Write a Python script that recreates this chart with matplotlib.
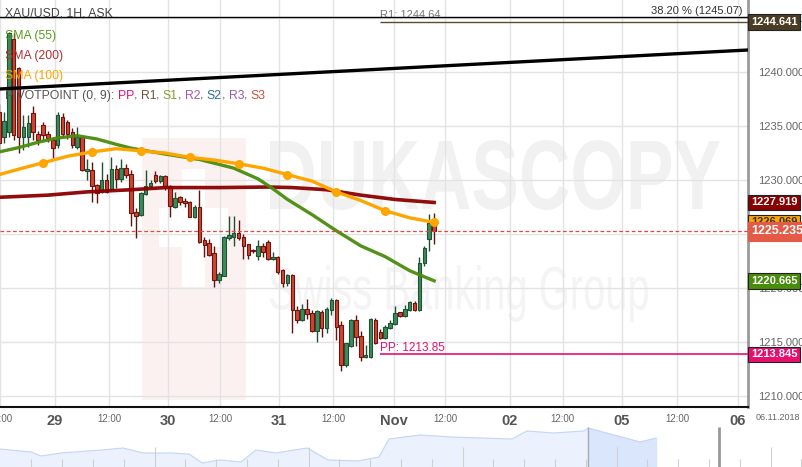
import numpy as np
import matplotlib.pyplot as plt
import matplotlib.transforms as mtrans
from matplotlib.patches import Rectangle, PathPatch
from matplotlib.textpath import TextPath
from matplotlib.font_manager import FontProperties

plt.rcParams['font.family'] = ['Liberation Sans', 'DejaVu Sans']

# XAU/USD 1H velas (ask)
opens = [1236.3, 1234.0, 1234.4, 1243.1, 1240.4, 1234.0, 1234.0, 1236.2, 1234.3, 1235.1,
         1234.3, 1233.7, 1233.2, 1235.8, 1235.4, 1234.4, 1233.1, 1234.0, 1230.8, 1230.9,
         1229.5, 1228.9, 1230.0, 1229.2, 1231.0, 1230.1, 1231.1, 1230.6, 1227.0, 1226.8,
         1228.7, 1229.4, 1230.5, 1229.9, 1230.4, 1229.4, 1227.5, 1228.4, 1228.1, 1228.0,
         1226.6, 1227.5, 1224.4, 1224.2, 1223.2, 1220.7, 1221.1, 1224.6, 1224.7, 1225.1,
         1224.7, 1224.1, 1223.5, 1223.0, 1223.9, 1224.3, 1222.7, 1222.9, 1221.7, 1220.5,
         1221.2, 1218.0, 1217.0, 1218.1, 1217.7, 1216.0, 1217.8, 1216.3, 1218.0, 1218.9,
         1216.6, 1212.9, 1214.6, 1217.0, 1215.6, 1213.6, 1213.6, 1217.0, 1215.9, 1215.4,
         1216.3, 1216.7, 1217.75, 1217.4, 1218.0, 1218.6, 1218.0, 1222.3, 1224.5, 1226.05]
highs = [1237.0, 1236.3, 1243.7, 1243.6, 1240.5, 1236.0, 1236.0, 1236.9, 1234.5, 1235.4,
         1234.5, 1234.0, 1236.3, 1236.2, 1235.6, 1234.8, 1234.9, 1234.1, 1231.9, 1231.7,
         1229.6, 1231.7, 1230.6, 1232.1, 1231.4, 1231.9, 1231.5, 1230.9, 1227.4, 1228.9,
         1230.9, 1230.0, 1230.8, 1230.5, 1230.5, 1229.5, 1228.9, 1228.5, 1228.3, 1228.1,
         1227.7, 1229.1, 1224.7, 1224.5, 1223.9, 1221.5, 1224.8, 1226.7, 1226.7, 1226.3,
         1225.0, 1224.1, 1223.6, 1224.4, 1224.2, 1224.4, 1223.3, 1223.0, 1221.8, 1221.3,
         1221.3, 1218.3, 1218.5, 1219.0, 1218.0, 1218.0, 1218.0, 1218.2, 1219.1, 1219.0,
         1216.9, 1214.9, 1217.1, 1217.5, 1216.0, 1214.7, 1217.2, 1217.2, 1216.2, 1216.6,
         1217.0, 1218.3, 1217.8, 1218.4, 1218.8, 1218.8, 1222.9, 1223.9, 1226.85, 1226.9]
lows = [1232.5, 1233.4, 1234.0, 1233.7, 1232.5, 1232.8, 1233.1, 1233.7, 1233.2, 1233.7,
        1233.5, 1232.0, 1233.0, 1234.0, 1233.8, 1233.0, 1232.9, 1230.8, 1230.0, 1228.0,
        1227.9, 1228.8, 1228.8, 1229.0, 1229.3, 1229.8, 1230.2, 1225.7, 1224.6, 1226.7,
        1228.6, 1229.3, 1229.7, 1229.7, 1229.1, 1226.6, 1227.4, 1227.7, 1227.5, 1226.6,
        1226.5, 1224.2, 1222.9, 1223.0, 1220.1, 1220.5, 1221.1, 1224.4, 1223.9, 1224.4,
        1222.7, 1222.7, 1223.2, 1222.6, 1222.9, 1222.6, 1222.6, 1221.3, 1220.1, 1220.2,
        1215.8, 1216.8, 1216.9, 1217.1, 1215.9, 1215.0, 1215.5, 1215.8, 1217.5, 1215.2,
        1212.3, 1212.7, 1214.5, 1214.6, 1213.2, 1213.5, 1213.5, 1214.8, 1215.3, 1215.3,
        1216.2, 1216.6, 1217.3, 1217.3, 1217.9, 1217.9, 1217.9, 1222.0, 1223.45, 1224.1]
closes = [1233.4, 1235.5, 1243.6, 1234.2, 1234.0, 1234.9, 1235.3, 1234.4, 1233.7, 1234.2,
          1233.9, 1233.0, 1236.0, 1234.3, 1234.3, 1233.2, 1234.0, 1230.9, 1231.0, 1229.4,
          1228.8, 1230.0, 1228.9, 1231.0, 1230.1, 1231.1, 1230.5, 1226.9, 1226.7, 1228.8,
          1229.4, 1229.7, 1229.9, 1230.4, 1229.4, 1227.6, 1228.3, 1228.0, 1227.9, 1226.6,
          1227.5, 1224.3, 1224.0, 1223.1, 1220.7, 1221.3, 1224.7, 1224.9, 1225.1, 1224.6,
          1223.9, 1223.1, 1223.4, 1223.9, 1223.3, 1222.7, 1222.9, 1221.5, 1220.5, 1221.2,
          1218.0, 1217.0, 1218.1, 1217.6, 1216.0, 1217.9, 1216.3, 1218.1, 1218.9, 1216.4,
          1212.9, 1214.9, 1217.0, 1215.5, 1213.6, 1213.8, 1217.1, 1214.9, 1215.4, 1216.4,
          1216.8, 1217.7, 1217.4, 1218.1, 1218.7, 1218.0, 1222.3, 1223.7, 1226.05, 1225.235]

# medias moviles (indice de vela, valor)
sma55_idx = [0, 4, 8, 12, 16, 20, 24, 27, 34, 41, 48, 53, 56, 59, 64, 69, 74, 79, 84, 89]
sma55_val = [1232.6, 1233.0, 1233.5, 1233.9, 1234.1, 1233.8, 1233.3, 1232.95, 1232.4, 1231.9,
             1231.1, 1230.1, 1229.2, 1228.2, 1226.8, 1225.3, 1223.9, 1222.9, 1221.6, 1220.665]
sma100_idx = [0, 4, 9, 14, 19, 24, 29, 34, 39, 44, 49, 54, 59, 64, 69, 74, 79, 84, 89]
sma100_val = [1230.5, 1231.0, 1231.6, 1232.2, 1232.6, 1232.9, 1232.7, 1232.5, 1232.1, 1231.85,
              1231.5, 1231.1, 1230.5, 1229.9, 1228.9, 1228.1, 1227.15, 1226.5, 1226.069]
sma200_idx = [0, 10, 18, 27, 34, 45, 55, 60, 67, 74, 81, 89]
sma200_val = [1228.4, 1228.6, 1228.9, 1229.1, 1229.3, 1229.3, 1229.35, 1229.3, 1229.1, 1228.6,
              1228.2, 1227.919]

# niveles
last_price = 1225.235
pp_level = 1213.85
r1_level = 1244.64
fib_level = 1245.07
pivot_start = 78
trend_idx = [0.2, 153.2]
trend_val = [1238.43, 1242.04]

tick_pos = [0.2, 11.45, 22.5, 34.6, 45.2, 57.3, 68.3, 80.8, 91.2, 104.5, 115.3, 127.4, 138.7, 151.1]
tick_lab = ['12:00', '29', '12:00', '30', '12:00', '31', '12:00', 'Nov', '12:00', '02',
            '12:00', '05', '12:00', '06']
y_ticks = [1210, 1215, 1220, 1225, 1230, 1235, 1240, 1245]

# navegador inferior
nav_x = [0, 31, 41, 61, 102, 123, 143, 169, 189, 202, 220, 241, 256, 276, 307, 328, 358, 379,
         389, 420, 451, 481, 512, 527, 553, 584, 588, 614, 640, 656]
nav_h = [18, 15, 11, 14, 17, 19, 14, 14, 13, 4, 7, 5, 17, 14, 19, 7, 6, 10,
         28, 32, 30, 29, 28, 36, 34, 36, 39, 32, 25, 29]

W, H = 803, 467
fig = plt.figure(figsize=(W / 100, H / 100), dpi=100)
ax = fig.add_axes([0, 60 / H, 748 / W, 407 / H])
# transformacion en pixeles de imagen (y hacia abajo)
T = mtrans.Affine2D().scale(1 / W, -1 / H).translate(0, 1) + fig.transFigure


def watermark(txt, box, color, weight):
    x0, y0, x1, y1 = box
    tp = TextPath((0, 0), txt, size=1, prop=FontProperties(family='Liberation Sans', weight=weight))
    e = tp.get_extents()
    tr = (mtrans.Affine2D().translate(-e.x0, -e.y1)
          .scale((x1 - x0) / e.width, -(y1 - y0) / e.height).translate(x0, y0) + T)
    ax.add_patch(PathPatch(tp, fc=color, ec='none', transform=tr, zorder=0.5))


# marca de agua
ax.add_patch(Rectangle((142, 138), 104, 262, fc='#fcf1f1', ec='none', transform=T, zorder=0.4))
ax.add_patch(Rectangle((182, 169), 23, 118, fc='white', ec='none', transform=T, zorder=0.45))
ax.add_patch(Rectangle((159, 208), 69, 39, fc='white', ec='none', transform=T, zorder=0.45))
watermark('DUKASCOPY', (270, 140, 720, 210), '#f1f1f1', 'bold')
watermark('Swiss Banking Group', (270, 265, 648, 322), '#f4f4f4', 'normal')

# velas
o, h, l, c = map(np.array, (opens, highs, lows, closes))
idx = np.arange(len(o))
up = c >= o
lo = np.minimum(o, c)
bh = np.maximum(np.abs(c - o), 0.08)
ax.vlines(idx[up], l[up], h[up], color='#1f5233', lw=1, zorder=2)
ax.vlines(idx[~up], l[~up], h[~up], color='#5e1512', lw=1, zorder=2)
ax.bar(idx[up], bh[up], bottom=lo[up], width=0.72, color='#3d8a5a', edgecolor='#1f5233', lw=0.8, zorder=3)
ax.bar(idx[~up], bh[~up], bottom=lo[~up], width=0.72, color='#d0442f', edgecolor='#6b1510', lw=0.8, zorder=3)

# medias
ax.plot(sma200_idx, sma200_val, color='#8b0000', lw=2.6, alpha=0.95, zorder=4)
ax.plot(sma55_idx, sma55_val, color='#4a8c0c', lw=2.4, alpha=0.95, zorder=4)
ax.plot(sma100_idx, sma100_val, color='#ffa500', lw=2.4, marker='o', ms=5.5,
        markevery=slice(2, None, 2), zorder=4)

# lineas dibujadas
ax.plot(trend_idx, trend_val, color='black', lw=2.4, zorder=5)
ax.axhline(fib_level, color='black', lw=1, zorder=5)
ax.text(0.993, fib_level + 0.12, '38.20 % (1245.07)', transform=mtrans.blended_transform_factory(ax.transAxes, ax.transData),
        ha='right', va='bottom', fontsize=8, color='#333')
ax.hlines(r1_level, pivot_start, 153.2, color='#5b4b2f', lw=1, zorder=5)
ax.text(pivot_start, r1_level + 0.2, 'R1: 1244.64', fontsize=8, color='#777', va='bottom')
ax.hlines(pp_level, pivot_start, 153.2, color='#e8106e', lw=1.2, zorder=5)
ax.text(pivot_start, pp_level + 0.08, 'PP: 1213.85', fontsize=8.5, color='#e8106e', va='bottom')
ax.axhline(last_price, color='#e04a3a', lw=0.9, ls=(0, (3, 2)), zorder=5)

ax.set_xlim(0.2, 153.2)
ax.set_ylim(1208.98, 1246.67)

# ejes
ax.set_axisbelow(True)
ax.grid(color='#e3e3e3', lw=1)
for s in ['top', 'left']:
    ax.spines[s].set_visible(False)
ax.spines['bottom'].set_color('#111')
ax.spines['bottom'].set_linewidth(1.5)
ax.spines['right'].set_color('#9a9a9a')
ax.spines['right'].set_linewidth(2)
ax.yaxis.tick_right()
ax.set_yticks(y_ticks)
ax.set_yticklabels(['%.3f' % v for v in y_ticks])
ax.tick_params(axis='y', length=0, pad=7, labelsize=8, labelcolor='#666')
ax.set_xticks(tick_pos)
ax.set_xticklabels(tick_lab)
ax.tick_params(axis='x', length=0, pad=5)
for lbl in ax.get_xticklabels():
    if ':' in lbl.get_text():
        lbl.set_fontsize(7)
        lbl.set_color('#666')
    else:
        lbl.set_fontsize(10.5)
        lbl.set_fontweight('bold')
        lbl.set_color('#555')
fig.text(800, 418, '06.11.2018', transform=T, ha='right', va='center', fontsize=6.5, color='#666')

# etiquetas de precio
bt = mtrans.blended_transform_factory(ax.transAxes, ax.transData)


def tag(price, txt, fc, tc='white', fs=8, ec='#222'):
    ax.text(1.004, price, txt, transform=bt, ha='left', va='center', fontsize=fs, fontweight='bold',
            color=tc, clip_on=False, zorder=10,
            bbox=dict(boxstyle='square,pad=0.25', fc=fc, ec=ec, lw=0.8))


tag(1244.641, '1244.641', '#4a3d24')
tag(1227.919, '1227.919', '#8b0000')
tag(1226.069, '1226.069', '#ffa500', tc='#333')
tag(last_price, '1225.235', '#e35a47', fs=9, ec='#e35a47')
tag(1220.665, '1220.665', '#4a8c0c')
tag(1213.845, '1213.845', '#e8106e')

# leyenda
fs_leg = 8.8
fig.text(5, 14, 'XAU/USD, 1H, ASK', transform=T, va='center', fontsize=fs_leg, color='#444')
fig.text(5, 36, 'SMA (55)', transform=T, va='center', fontsize=fs_leg, color='#5a9a1a')
fig.text(5, 56, 'SMA (200)', transform=T, va='center', fontsize=fs_leg, color='#b03030')
fig.text(5, 76, 'SMA (100)', transform=T, va='center', fontsize=fs_leg, color='#ffa500')
pieces = [('PIVOTPOINT (0, 9): ', '#555'), ('PP', '#e8106e'), (', ', '#555'), ('R1', '#6a5a3c'),
          (', ', '#555'), ('S1', '#8a9a2a'), (', ', '#555'), ('R2', '#a05aa8'), (', ', '#555'),
          ('S2', '#2e6e8e'), (', ', '#555'), ('R3', '#9a5aaa'), (', ', '#555'), ('S3', '#c8503c')]
t = fig.text(5, 96, pieces[0][0], transform=T, va='center', fontsize=fs_leg, color=pieces[0][1])
for s, col in pieces[1:]:
    t = ax.annotate(s, xy=(1, 0), xycoords=t, va='bottom', ha='left', fontsize=fs_leg, color=col,
                    annotation_clip=False)

# navegador
nav = fig.add_axes([0, 0, 1, 40 / H])
nav.set_xlim(0, W)
nav.set_ylim(0, 40)
nav.axis('off')
nx, nh = np.array(nav_x), np.array(nav_h)
nav.fill_between(nx, 0, nh, color='#ebf2fd', zorder=1)
sel = nx >= 588
nav.fill_between(nx[sel], 0, nh[sel], color='#d9e6fb', zorder=1)
nav.plot(nx, nh, color='#c3d6f6', lw=0.8, zorder=2)
for k, xv in enumerate(np.arange(31.5, W, 30.8)):
    nav.vlines(xv, 0, 20 if k % 5 == 4 else 8, color='#d0d0d0', lw=0.8, zorder=3)
nav.vlines(588, 0, 40, color='#aaa', lw=1, zorder=3)
nav.vlines(719, 0, 40, color='#999', lw=2, zorder=3)

fig.savefig('out.png', dpi=100)
